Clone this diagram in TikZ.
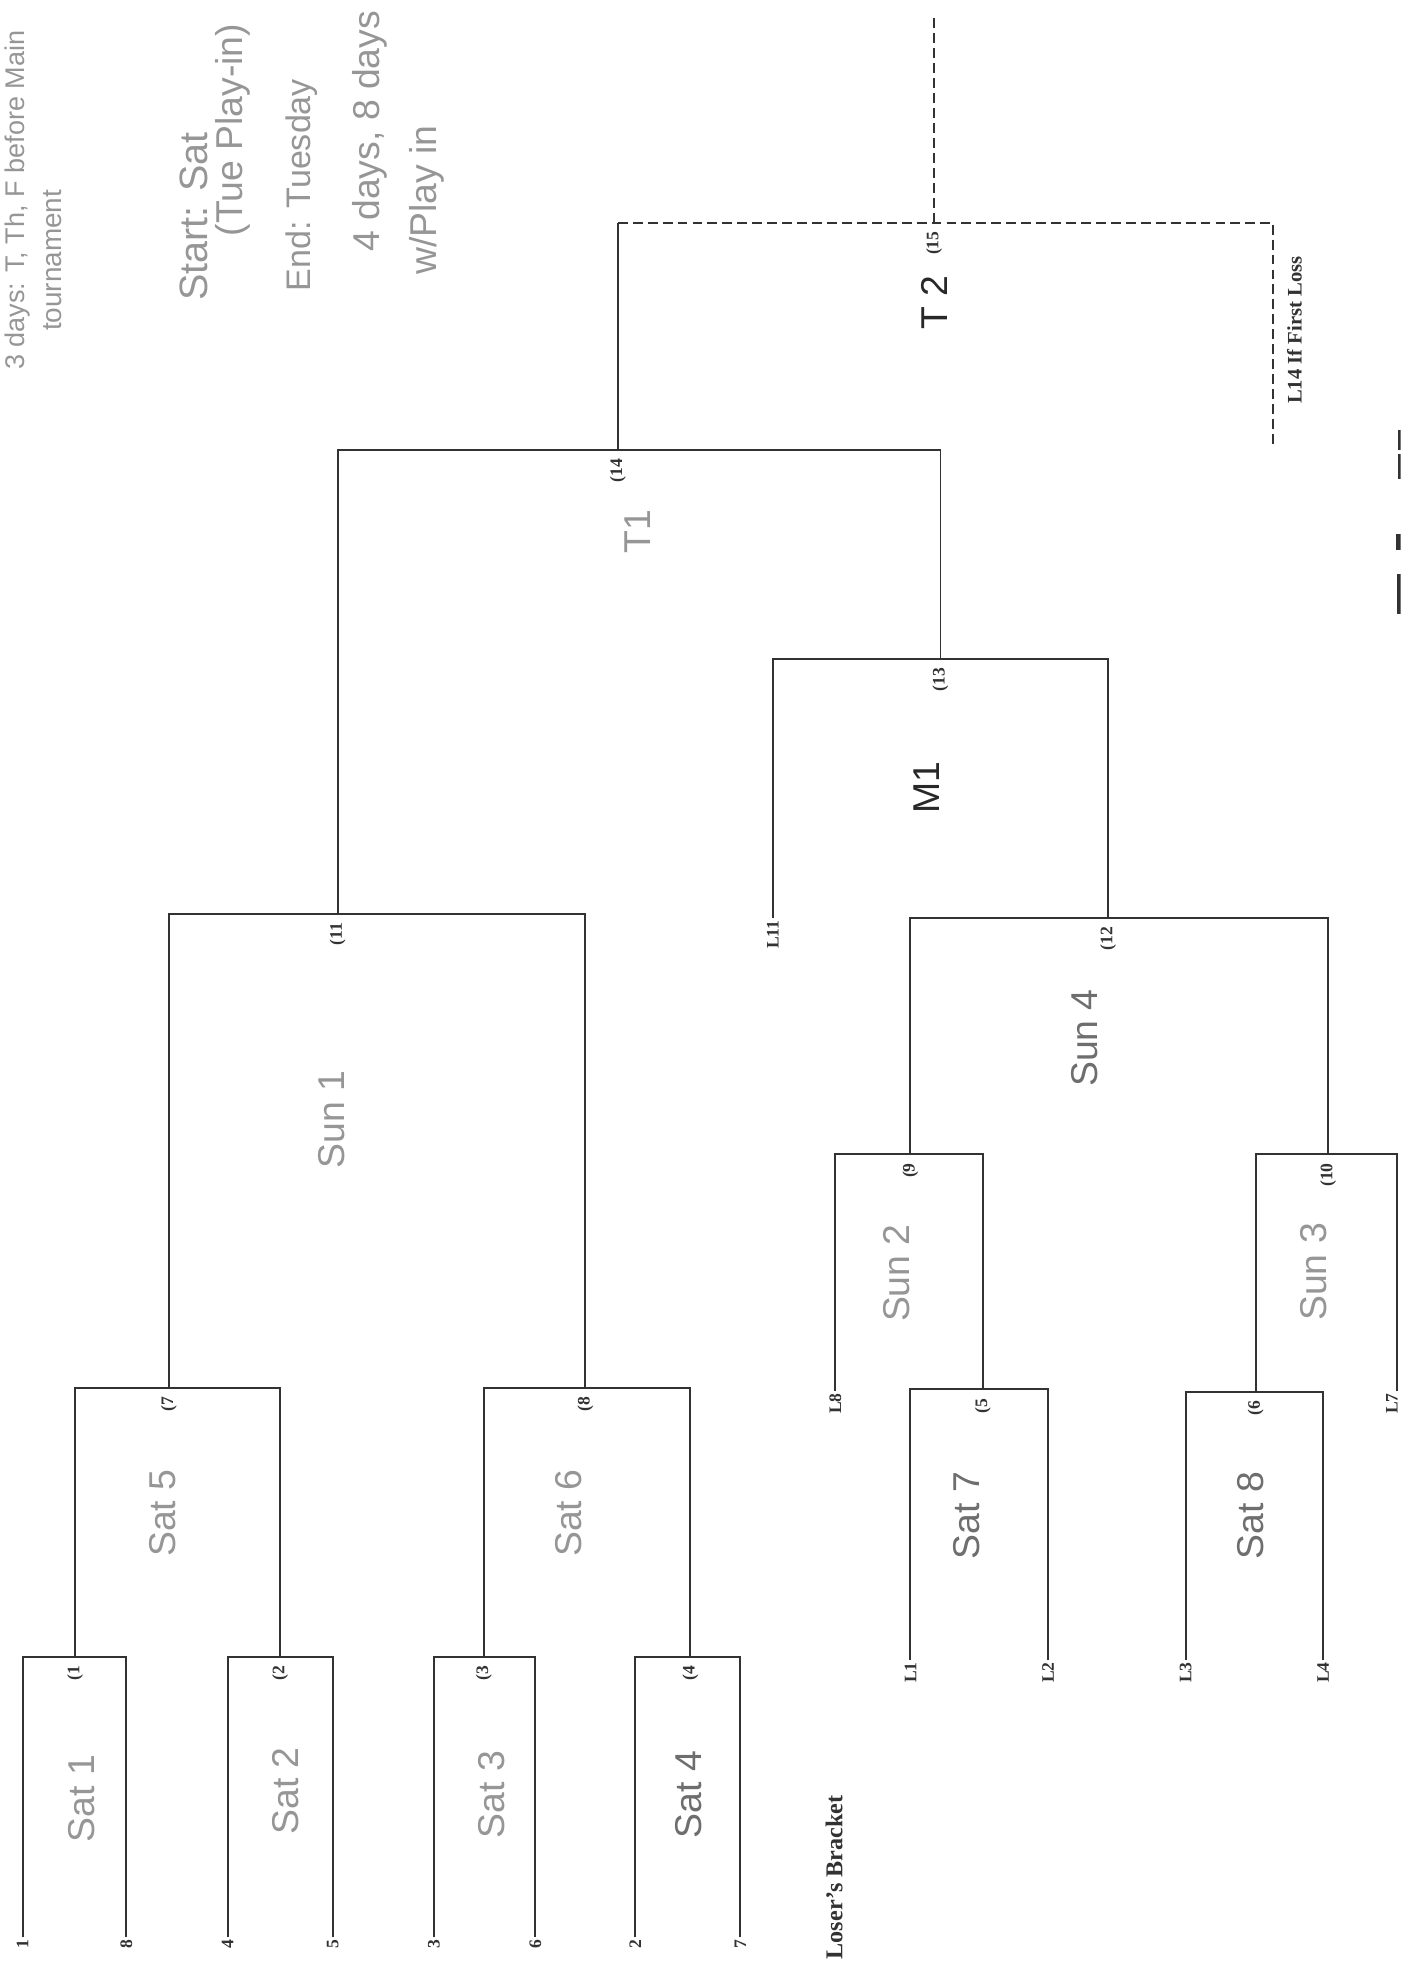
\documentclass[tikz,border=0pt]{standalone}
\usepackage{fontspec}
\setmainfont{Liberation Serif}
\newfontfamily\handfont{Liberation Sans}
\usepackage{tikz}
\usetikzlibrary{positioning}
\definecolor{inkgray}{RGB}{50, 50, 50}
\definecolor{pencil}{RGB}{150, 150, 150}
\definecolor{pencildark}{RGB}{110, 110, 110}
\definecolor{marker}{RGB}{40, 40, 40}
\tikzset{
	bracket/.style={draw=inkgray, line width=0.9pt},
	dashline/.style={bracket, dash pattern=on 4.5pt off 2.3pt},
	num/.style={rotate=90, anchor=east, inner sep=1pt, text=inkgray,
		font=\fontsize{8}{9}\selectfont\bfseries},
	seed/.style={num},
	scrawl/.style={rotate=90, inner sep=0pt, text=pencil,
		font=\fontsize{17}{20}\selectfont\handfont}
}

\begin{document}
\begin{tikzpicture}[x=0.02cm, y=-0.02cm]
	\fill[white] (0,0) rectangle (1120,1568);
	\useasboundingbox (0,0) rectangle (1120,1568);
	\clip (0,0) rectangle (1120,1568);

	% match points (stem meets the bar)
	\coordinate (m1) at (60,1325);
	\coordinate (m2) at (224,1325);
	\coordinate (m3) at (387,1325);
	\coordinate (m4) at (552,1325);
	\coordinate (m7) at (135,1110);
	\coordinate (m8) at (468,1110);
	\coordinate (m11) at (270,731);
	\coordinate (m14) at (494,360);
	\coordinate (m15) at (747,178);
	\coordinate (m5) at (786,1111);
	\coordinate (m6) at (1004,1113);
	\coordinate (m9) at (728,923);
	\coordinate (m10) at (1062,923);
	\coordinate (m12) at (886,734);
	\coordinate (m13) at (752,527);
	\coordinate (j15) at (494,178);
	\coordinate (w15) at (747,11);
	\coordinate (l14) at (1018,355);

	% seeds and losers
	\foreach \n/\x in {1/18, 8/101, 4/182, 5/266, 3/347, 6/428, 2/508, 7/592}
		\node[seed] (s\n) at (\x,1549) {\n};
	\foreach \n/\x/\y in {L1/728/1327, L2/838/1327, L3/948/1327, L4/1058/1327,
			L8/668/1112, L11/618/734}
		\node[seed] (\n) at (\x,\y) {\n};
	\node[seed] (L7) at (1113,1112) {L7};
	\coordinate (l7top) at (1117,923);

	% winner's bracket
	\draw[bracket] (s1.east) |- (m1) -| (s8.east);
	\draw[bracket] (s4.east) |- (m2) -| (s5.east);
	\draw[bracket] (s3.east) |- (m3) -| (s6.east);
	\draw[bracket] (s2.east) |- (m4) -| (s7.east);
	\draw[bracket] (m1) |- (m7) -| (m2);
	\draw[bracket] (m3) |- (m8) -| (m4);
	\draw[bracket] (m7) |- (m11) -| (m8);
	\draw[bracket] (m11) |- (m14) -| (m13);
	\draw[bracket] (m14) -- (j15);
	\draw[dashline] (j15) -| (l14);
	\draw[dashline] (m15) -- (w15);

	% loser's bracket
	\draw[bracket] (L1.east) |- (m5) -| (L2.east);
	\draw[bracket] (L3.east) |- (m6) -| (L4.east);
	\draw[bracket] (L8.east) |- (m9) -| (m5);
	\draw[bracket] (m6) |- (m10) -- (l7top) -- (l7top |- L7.east);
	\draw[bracket] (m9) |- (m12) -| (m10);
	\draw[bracket] (L11.east) |- (m13) -| (m12);

	\foreach \m in {1,...,15}
		\node[num] (n\m) at ([yshift=-1mm]m\m) {(\m};

	\node[rotate=90, text=inkgray, font=\fontsize{9.4}{11}\selectfont\bfseries]
		(ifloss) at (1035,264) {L14 If First Loss};
	\node[rotate=90, text=inkgray, font=\fontsize{11}{13}\selectfont\bfseries]
		(losers) at (667,1501) {Loser's Bracket};

	% pencil notes
	\node[scrawl, anchor=west, font=\fontsize{12.3}{15}\selectfont\handfont]
		(noteA) at (14,296) {3 days: T, Th, F before Main};
	\node[scrawl, anchor=west, font=\fontsize{12.7}{15}\selectfont\handfont]
		(noteB) at (42,265) {tournament};
	\node[scrawl, font=\fontsize{18}{20}\selectfont\handfont] (start) at (155,173) {Start: Sat};
	\node[scrawl] (playin) at (186,104) {(Tue Play-in)};
	\node[scrawl, font=\fontsize{15.5}{18}\selectfont\handfont] (end) at (241,148) {End: Tuesday};
	\node[scrawl] (days) at (296,105) {4 days, 8 days};
	\node[scrawl] (withplay) at (341,160) {w/Play in};

	% days written in the brackets
	\node[scrawl] (sat1) at (65,1438) {Sat 1};
	\node[scrawl] (sat2) at (228,1432) {Sat 2};
	\node[scrawl] (sat3) at (393,1435) {Sat 3};
	\node[scrawl, text=pencildark] (sat4) at (551,1435) {Sat 4};
	\node[scrawl] (sat5) at (130,1210) {Sat 5};
	\node[scrawl] (sat6) at (455,1210) {Sat 6};
	\node[scrawl, text=pencildark] (sat7) at (773,1212) {Sat 7};
	\node[scrawl, text=pencildark] (sat8) at (1000,1212) {Sat 8};
	\node[scrawl] (sun1) at (265,895) {Sun 1};
	\node[scrawl] (sun2) at (717,1018) {Sun 2};
	\node[scrawl] (sun3) at (1050,1017) {Sun 3};
	\node[scrawl, text=pencildark] (sun4) at (867,830) {Sun 4};
	\node[scrawl, text=marker] (mon1) at (741,630) {M1};
	\node[scrawl] (tue1) at (510,425) {T1};
	\node[scrawl, text=marker] (tue2) at (747,242) {T 2};

	% cut-off heading at the right edge
	\fill[inkgray] (1118,344) rectangle (1121,360);
	\fill[inkgray] (1118,363) rectangle (1121,383);
	\fill[inkgray] (1120,388) rectangle (1121,392);
	\fill[inkgray] (1116,427) rectangle (1121,440);
	\fill[inkgray] (1117,459) rectangle (1121,491);
\end{tikzpicture}
\end{document}
